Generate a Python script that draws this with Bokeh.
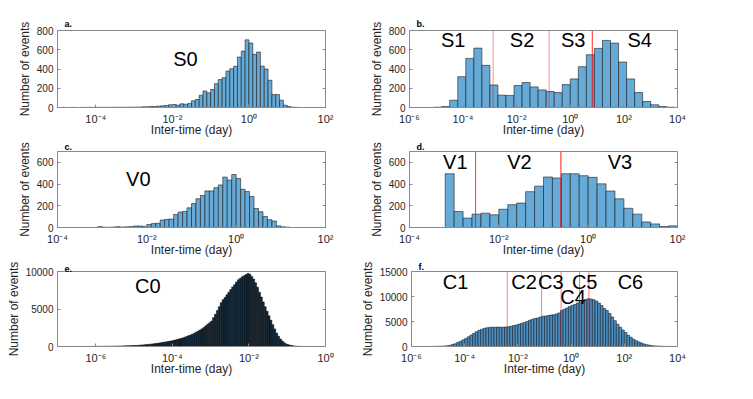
from bokeh.plotting import figure
from bokeh.models import (FixedTicker, LinearAxis, Span, Label,
                          CustomJSTickFormatter, Range1d)
from bokeh.layouts import column, row
from bokeh.embed import file_html
from bokeh.resources import INLINE

# ---------------- data (log10 bin start, log10 bin width, counts) ----------------
a_start, a_width = -5.0, 0.1
a_counts = [0, 1, 0, 1, 1, 0, 1, 1, 2, 1, 2, 2, 1, 2, 2, 3, 2, 3, 3, 3,
            4, 4, 7, 7, 10, 10, 14, 17, 21, 28, 31, 24, 38, 34, 41, 69, 83, 128, 172, 152,
            186, 248, 290, 310, 379, 403, 428, 524, 586, 703, 670, 552, 576, 430, 400, 283, 134, 134, 76, 24,
            10, 3, 2]

b_start, b_width = -5.1, 0.3
b_counts = [3, 10, 76, 320, 510, 617, 438, 234, 128, 124, 228, 259, 214, 183, 166, 155,
            238, 297, 424, 548, 614, 697, 669, 472, 297, 155, 62, 28, 10, 3]

c_start, c_width = -3.2, 0.1
c_counts = [0, 8, 3, 2, 4, 8, 4, 6, 8, 14, 14, 10, 27, 36, 39, 69, 75, 78, 120, 142,
            148, 181, 220, 265, 295, 337, 337, 367, 392, 464, 437, 488, 452, 352, 331, 286, 175, 145, 102, 72,
            60, 15, 6, 3]

d_start, d_width = -3.2, 0.2
d_counts = [495, 147, 87, 123, 132, 117, 168, 210, 225, 330, 381, 465, 456, 495, 495, 477,
            462, 402, 336, 264, 177, 123, 51, 33, 9, 15]

e_start, e_width = -6.5, 0.05
e_counts = [4, 5, 6, 7, 8, 9, 11, 13, 15, 17, 20, 22, 25, 28, 31, 34, 38, 42, 46, 50,
            55, 61, 68, 75, 83, 92, 100, 108, 117, 125, 135, 150, 170, 190, 210, 232, 255, 280, 310, 340,
            372, 405, 440, 480, 520, 562, 605, 655, 700, 750, 805, 870, 935, 1005, 1075, 1150, 1240, 1340, 1440, 1540,
            1650, 1780, 1920, 2060, 2200, 2360, 2550, 2760, 2960, 3170, 3400, 3850, 4300, 4800, 5300, 5850, 6250, 6550, 6900, 7250,
            7600, 7950, 8250, 8600, 8900, 9100, 9300, 9450, 9600, 9750, 9650, 9350, 9000, 8500, 7900, 7250, 6600, 5950, 5300, 4700,
            4100, 3500, 2900, 2350, 1800, 1380, 1000, 720, 500, 350, 250, 175, 120, 80, 50, 32, 20, 12, 8, 5]

f_start, f_width = -5.5, 0.1
f_counts = [8, 12, 18, 25, 32, 45, 65, 100, 150, 220, 420, 540, 830, 1050, 1330, 1620, 1950, 2300, 2640, 2970,
            3250, 3450, 3650, 3750, 3820, 3870, 3850, 3880, 3830, 3870, 3900, 3950, 4050, 4180, 4300, 4480, 4650, 4820, 5000, 5250,
            5450, 5600, 5700, 5900, 6050, 6100, 6200, 6300, 6350, 6500, 6700, 7200, 7450, 7700, 8000, 8250, 8400, 8700, 8900, 9150,
            9400, 9550, 9500, 9350, 9100, 8700, 8200, 7600, 7200, 6600, 5900, 5150, 4450, 3850, 3300, 2800, 2250, 1850, 1450, 1150,
            900, 680, 500, 350, 250, 170, 120, 85, 60, 40, 28, 18, 10, 5]

# axes limits (log10 for x) and ticks
a_xlim, b_xlim, c_xlim, d_xlim, e_xlim, f_xlim = (-5, 2), (-6, 4), (-4, 2), (-4, 2), (-7, 0), (-6, 4)
a_xticks = [-4, -2, 0, 2]
b_xticks = [-6, -4, -2, 0, 2, 4]
c_xticks = [-4, -2, 0, 2]
d_xticks = [-4, -2, 0, 2]
e_xticks = [-6, -4, -2, 0]
f_xticks = [-6, -4, -2, 0, 2, 4]
a_ylim, b_ylim, c_ylim, d_ylim, e_ylim, f_ylim = 800, 800, 700, 700, 10000, 15000
a_yticks = [0, 200, 400, 600, 800]
b_yticks = [0, 200, 400, 600, 800]
c_yticks = [0, 200, 400, 600]
d_yticks = [0, 200, 400, 600]
e_yticks = [0, 5000, 10000]
f_yticks = [0, 5000, 10000, 15000]

# region boundaries (log10 day)
b_cuts = [-2.88, -0.79, 0.82]
d_cuts = [-2.52, -0.61]
f_cuts = [-2.40, -1.11, -0.376, 0.32, 0.67]

# region names and their positions (log10 x, count y)
a_names, a_name_x, a_name_y = ["S0"], [-1.66], [500]
b_names, b_name_x, b_name_y = ["S1", "S2", "S3", "S4"], [-4.37, -1.80, 0.11, 2.59], [706, 706, 706, 706]
c_names, c_name_x, c_name_y = ["V0"], [-2.19], [447]
d_names, d_name_x, d_name_y = ["V1", "V2", "V3"], [-2.975, -1.54, 0.71], [604, 604, 604]
e_names, e_name_x, e_name_y = ["C0"], [-4.64], [8030]
f_names = ["C1", "C2", "C3", "C4", "C5", "C6"]
f_name_x = [-4.34, -1.77, -0.76, 0.077, 0.51, 2.23]
f_name_y = [12950, 12950, 12950, 9860, 12950, 12950]

FONT = "Liberation Sans"
AX = "#8a8a8a"
TXT = "#262626"

sup_js = """
const m = {"-":"\\u207b","0":"\\u2070","1":"\\u00b9","2":"\\u00b2","3":"\\u00b3","4":"\\u2074",
           "5":"\\u2075","6":"\\u2076","7":"\\u2077","8":"\\u2078","9":"\\u2079"};
const e = Math.round(Math.log10(tick));
let s = "";
for (const c of String(e)) s += m[c];
return "10" + s;
"""


def panel(letter, start, width, counts, xlim, xticks, ylim, yticks, names, nx, ny, cuts, cut_alpha,
          fill, edge, edge_w, w, h, bl, br, bt, bb, title_standoff):
    p = figure(width=w, height=h, x_axis_type="log",
               x_range=Range1d(10 ** xlim[0], 10 ** xlim[1]), y_range=Range1d(0, ylim),
               output_backend="svg", toolbar_location=None,
               min_border_left=bl, min_border_right=br, min_border_top=bt, min_border_bottom=bb,
               background_fill_color="white", border_fill_color="white")
    p.outline_line_color = AX
    p.outline_line_width = 1
    p.xgrid.visible = False
    p.ygrid.visible = False

    p.title.text = letter
    p.title.align = "left"
    p.title.offset = 7
    p.title.standoff = title_standoff
    p.title.text_font = FONT
    p.title.text_font_size = "9px"
    p.title.text_font_style = "bold"
    p.title.text_color = "black"

    n = len(counts)
    left = [10 ** (start + i * width) for i in range(n)]
    right = [10 ** (start + (i + 1) * width) for i in range(n)]
    p.quad(left=left, right=right, bottom=0, top=counts, fill_color=fill,
           line_color=edge, line_width=edge_w)

    xt = [10.0 ** k for k in xticks]
    xa = p.xaxis[0]
    xa.ticker = FixedTicker(ticks=xt, minor_ticks=[])
    xa.formatter = CustomJSTickFormatter(code=sup_js)
    ya = p.yaxis[0]
    ya.ticker = FixedTicker(ticks=yticks, minor_ticks=[])
    for ax in (xa, ya):
        ax.axis_line_color = AX
        ax.major_tick_line_color = AX
        ax.major_tick_in = 3
        ax.major_tick_out = 0
        ax.minor_tick_line_color = None
        ax.major_label_text_font = FONT
        ax.major_label_text_color = TXT
        ax.axis_label_text_font = FONT
        ax.axis_label_text_font_size = "12px"
        ax.axis_label_text_font_style = "normal"
        ax.axis_label_text_color = TXT
    xa.major_label_text_font_size = "11px"
    ya.major_label_text_font_size = "10px"
    xa.axis_label = "Inter-time (day)"
    xa.major_label_standoff = 5
    xa.axis_label_standoff = -5
    ya.axis_label = "Number of events"
    ya.major_label_standoff = 4
    ya.axis_label_standoff = 2

    right_ax = LinearAxis(ticker=FixedTicker(ticks=yticks, minor_ticks=[]), major_label_text_font_size="1px",
                          major_label_text_alpha=0,
                          major_tick_in=3, major_tick_out=0, major_tick_line_color=AX,
                          axis_line_color=None, minor_tick_line_color=None, major_label_standoff=0)
    p.add_layout(right_ax, "right")

    for c, al in zip(cuts, cut_alpha):
        p.add_layout(Span(location=10 ** c, dimension="height", line_color="red",
                          line_width=1, line_alpha=al))

    for t, x, y in zip(names, nx, ny):
        p.add_layout(Label(x=10 ** x, y=y, text=t, text_font=FONT, text_font_size="20px",
                           text_color="black", text_align="center", text_baseline="middle"))
    return p


BAR = "#66AAD7"
EDGE = "#1c1c1c"
LW, RW = 357, 388
L_L, L_R, R_L, R_R = 57, 32, 52, 68
B, T = 32, 10

pa = panel("a.", a_start, a_width, a_counts, a_xlim, a_xticks, a_ylim, a_yticks, a_names, a_name_x, a_name_y,
           [], [], BAR, EDGE, 0.6, LW, 30 + 77 + B, L_L, L_R, 30, B, 4)
pb = panel("b.", b_start, b_width, b_counts, b_xlim, b_xticks, b_ylim, b_yticks, b_names, b_name_x, b_name_y,
           b_cuts, [0.45, 0.45, 0.85], BAR, EDGE, 0.6, RW, 30 + 77 + B, R_L, R_R, 30, B, 4)
pc = panel("c.", c_start, c_width, c_counts, c_xlim, c_xticks, c_ylim, c_yticks, c_names, c_name_x, c_name_y,
           [], [], BAR, EDGE, 0.6, LW, T + 78 + B, L_L, L_R, T, B, 0)
pd = panel("d.", d_start, d_width, d_counts, d_xlim, d_xticks, d_ylim, d_yticks, d_names, d_name_x, d_name_y,
           d_cuts, [0.8, 0.9], BAR, EDGE, 0.6, RW, T + 78 + B, R_L, R_R, T, B, 0)
pe = panel("e.", e_start, e_width, e_counts, e_xlim, e_xticks, e_ylim, e_yticks, e_names, e_name_x, e_name_y,
           [], [], "#13293a", "#070b0f", 0.5, LW, T + 77 + B + 2, L_L, L_R, T, B + 2, 0)
pf = panel("f.", f_start, f_width, f_counts, f_xlim, f_xticks, f_ylim, f_yticks, f_names, f_name_x, f_name_y,
           f_cuts, [0.5, 0.5, 0.5, 0.6, 0.5], "#4f8fc0", "#14202a", 0.6, RW, T + 77 + B + 2, R_L, R_R, T, B + 2, 0)

layout = column(row(pa, pb), row(pc, pd), row(pe, pf))
open("out.html", "w").write(file_html(layout, INLINE))
